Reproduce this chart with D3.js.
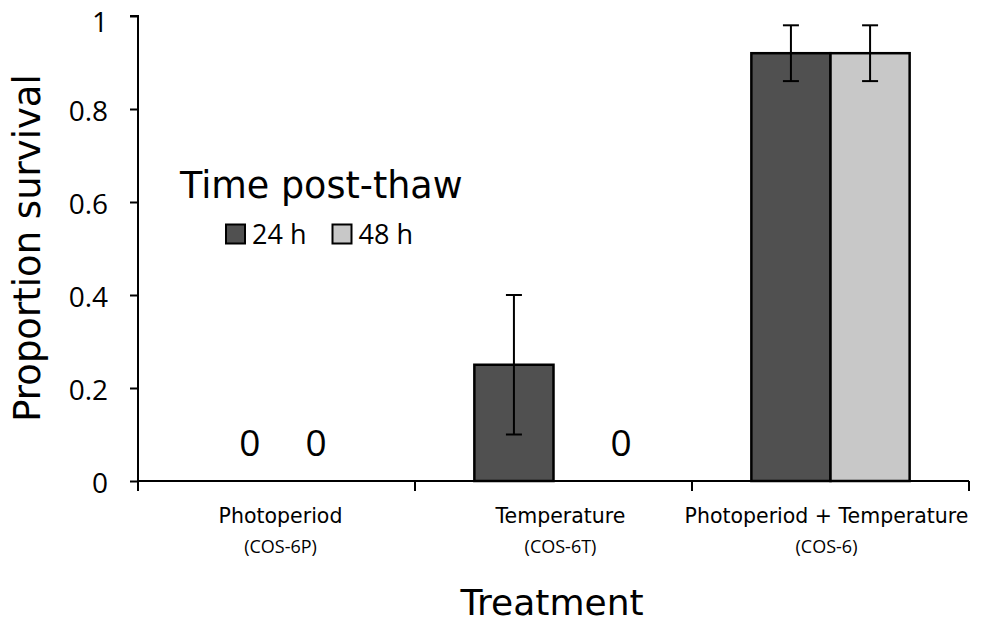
<!DOCTYPE html>
<html>
<head>
<meta charset="utf-8">
<script src="https://cdn.jsdelivr.net/npm/d3@7"></script>
<style>
  body { margin: 0; background: #fff; }
  svg { display: block; font-family: "DejaVu Sans", sans-serif; }
</style>
</head>
<body>
<svg id="chart" width="981" height="624"></svg>
<script>
// Treatments (category label + code line)
const treatments = ["Photoperiod", "Temperature", "Photoperiod + Temperature"];
const treatmentCodes = ["(COS-6P)", "(COS-6T)", "(COS-6)"];
const timepoints = ["24 h", "48 h"];
// Proportion survival per treatment, 24 h and 48 h post-thaw
const survival24 = [0, 0.25, 0.92];
const survival48 = [0, 0, 0.92];
// Half-width of error bars (null = no error bar)
const err24 = [null, 0.15, 0.06];
const err48 = [null, null, 0.06];
const yTicks = [0, 0.2, 0.4, 0.6, 0.8, 1];

const colors = { "24 h": "#505050", "48 h": "#c8c8c8" };
const numFont = "Open Sans";

const svg = d3.select("#chart");
const plotLeft = 138, plotRight = 969, plotTop = 16, plotBottom = 481;

const x = d3.scaleBand().domain(treatments).range([plotLeft, plotRight]).paddingInner(0).paddingOuter(0);
const xSub = d3.scaleBand().domain(timepoints).range([0, x.bandwidth()]).paddingInner(0).paddingOuter(0.75);
const y = d3.scaleLinear().domain([0, 1]).range([plotBottom, plotTop]);

// Flatten into one record per bar
const bars = [];
treatments.forEach((t, i) => {
  bars.push({ t, time: "24 h", v: survival24[i], e: err24[i] });
  bars.push({ t, time: "48 h", v: survival48[i], e: err48[i] });
});
const barCenter = d => x(d.t) + xSub(d.time) + xSub.bandwidth() / 2;

const g = svg.append("g");

// Bars (zero values are shown only by their "0" label)
g.selectAll("rect.bar").data(bars.filter(d => d.v > 0)).join("rect")
  .attr("class", "bar")
  .attr("x", d => x(d.t) + xSub(d.time))
  .attr("y", d => y(d.v))
  .attr("width", xSub.bandwidth())
  .attr("height", d => y(0) - y(d.v))
  .attr("fill", d => colors[d.time])
  .attr("stroke", "#000")
  .attr("stroke-width", 2.5);

// Error bars
const eb = g.selectAll("g.err").data(bars.filter(d => d.e != null)).join("g").attr("class", "err")
  .attr("transform", d => `translate(${barCenter(d)},0)`);
eb.append("line").attr("y1", d => y(d.v - d.e)).attr("y2", d => y(d.v + d.e))
  .attr("stroke", "#000").attr("stroke-width", 2);
eb.append("line").attr("x1", -8).attr("x2", 8).attr("y1", d => y(d.v + d.e)).attr("y2", d => y(d.v + d.e))
  .attr("stroke", "#000").attr("stroke-width", 2);
eb.append("line").attr("x1", -8).attr("x2", 8).attr("y1", d => y(d.v - d.e)).attr("y2", d => y(d.v - d.e))
  .attr("stroke", "#000").attr("stroke-width", 2);

// "0" labels for bars with no survival, nudged sideways as laid out in the figure
const zeroNudge = { "Photoperiod|24 h": 13, "Photoperiod|48 h": 0, "Temperature|48 h": 28 };
g.selectAll("text.zero").data(bars.filter(d => d.v === 0)).join("text")
  .attr("class", "zero")
  .attr("x", d => barCenter(d) + (zeroNudge[d.t + "|" + d.time] || 0))
  .attr("y", y(0) - 25)
  .attr("text-anchor", "middle")
  .attr("font-family", numFont)
  .attr("font-size", 37)
  .attr("fill", "#000")
  .text(d => d3.format("d")(d.v));

// Y axis
const yAxis = d3.axisLeft(y).tickValues(yTicks).tickSize(8).tickPadding(22)
  .tickFormat(d => d === 0 || d === 1 ? d3.format("d")(d) : d3.format(".1f")(d));
const ya = svg.append("g").attr("transform", `translate(${plotLeft},0)`).call(yAxis);
ya.select(".domain").attr("d", `M-8,${plotTop}H0V${plotBottom}`).attr("stroke-width", 2);
ya.selectAll(".tick line").attr("stroke-width", 2);
ya.selectAll(".tick text").attr("font-size", 28).attr("font-family", numFont).attr("fill", "#000")
  .attr("dy", d => d === 1 ? "0.55em" : "0.4em");

// X axis: ticks at category boundaries
const xb = svg.append("g").attr("transform", `translate(0,${plotBottom})`);
xb.append("line").attr("x1", plotLeft).attr("x2", plotRight).attr("stroke", "#000").attr("stroke-width", 2);
const bounds = treatments.map(t => x(t)).concat([x(treatments[treatments.length - 1]) + x.bandwidth()]);
xb.selectAll("line.tk").data(bounds).join("line").attr("class", "tk")
  .attr("x1", d => d).attr("x2", d => d).attr("y1", 0).attr("y2", 10)
  .attr("stroke", "#000").attr("stroke-width", 2);
const labelNudge = [4, 7, -4];
xb.selectAll("text.cat").data(treatments).join("text").attr("class", "cat")
  .attr("x", (d, i) => x(d) + x.bandwidth() / 2 + labelNudge[i]).attr("y", 42)
  .attr("text-anchor", "middle").attr("font-size", 20.5).attr("fill", "#000").text(d => d);
xb.selectAll("text.code").data(treatmentCodes).join("text").attr("class", "code")
  .attr("x", (d, i) => x(treatments[i]) + x.bandwidth() / 2 + labelNudge[i]).attr("y", 72)
  .attr("text-anchor", "middle").attr("font-family", numFont).attr("font-size", 18)
  .attr("fill", "#000").text(d => d);

// Axis titles
svg.append("text").attr("x", 552).attr("y", 615).attr("text-anchor", "middle")
  .attr("font-size", 36).attr("fill", "#000").text("Treatment");
svg.append("text").attr("transform", `translate(40,248) rotate(-90)`).attr("text-anchor", "middle")
  .attr("font-size", 37).attr("fill", "#000").text("Proportion survival");

// Legend
const lg = svg.append("g");
lg.append("text").attr("x", 180).attr("y", 198).attr("font-size", 36.5).attr("fill", "#000").text("Time post-thaw");
const items = lg.selectAll("g.item").data(timepoints).join("g").attr("class", "item")
  .attr("transform", (d, i) => `translate(${226 + i * 106.5},224.5)`);
items.append("rect").attr("width", 19).attr("height", 19)
  .attr("fill", d => colors[d]).attr("stroke", "#000").attr("stroke-width", 2);
items.append("text").attr("x", 26).attr("y", 19.5).attr("font-family", numFont).attr("font-size", 27)
  .attr("fill", "#000").text(d => d);
</script>
</body>
</html>
